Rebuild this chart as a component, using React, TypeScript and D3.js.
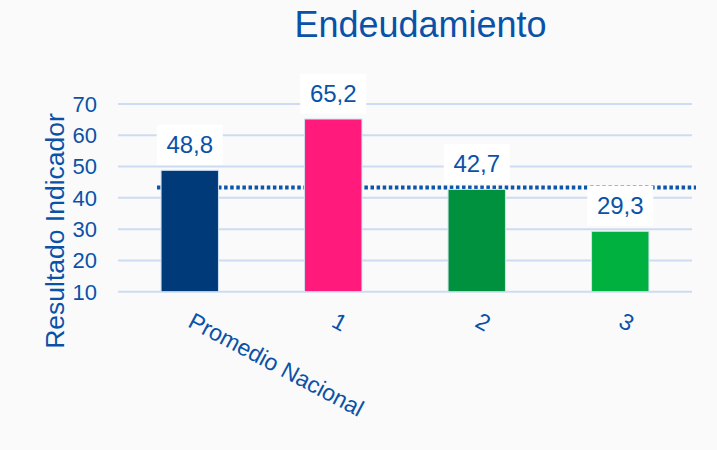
import React from "react";
import * as d3 from "d3";

const categories = ["Promedio Nacional", "1", "2", "3"];
const values = [48.8, 65.2, 42.7, 29.3];
const labels = ["48,8", "65,2", "42,7", "29,3"];
const barColors = ["#003a78", "#ff1a7b", "#00913f", "#00b140"];
const averageValue = 43.3;
const yTicks = [10, 20, 30, 40, 50, 60, 70];
const title = "Endeudamiento";
const yTitle = "Resultado Indicador";

const W = 717;
const H = 450;
const FONT = "'Liberation Sans', Arial, sans-serif";
const TEXT = "#0a52a8";

export default function App() {
  const x = d3.scaleBand<string>().domain(categories).range([118, 692]).paddingInner(0.6).paddingOuter(0.3);
  const y = d3.scaleLinear().domain([10, 70]).range([291.7, 104]);
  const bw = x.bandwidth();

  return (
    <svg width={W} height={H} style={{ position: "fixed", left: 0, top: 0, background: "#fafafa" }} fontFamily={FONT}>
      <rect x={0} y={0} width={W} height={H} fill="#fafafa" />
      <text x={420.5} y={37} textAnchor="middle" fontSize={36} fill={TEXT}>{title}</text>
      {yTicks.map((t) => (
        <line key={t} x1={118} x2={692} y1={y(t)} y2={y(t)} stroke="#cddcf0" strokeWidth={2} />
      ))}
      {yTicks.map((t) => (
        <text key={"l" + t} x={97} y={y(t)} dy="0.36em" textAnchor="end" fontSize={22} fill={TEXT}>{t}</text>
      ))}
      <text transform={`translate(64,231) rotate(-90)`} textAnchor="middle" fontSize={26.5} fill={TEXT}>{yTitle}</text>
      <line x1={157} x2={696} y1={y(averageValue)} y2={y(averageValue)} stroke="#0b56a8" strokeWidth={4} strokeDasharray="3.5,2.6" />
      {categories.map((c, i) => (
        <rect key={c} x={x(c)} y={y(values[i])} width={bw} height={y(10) - y(values[i])} fill={barColors[i]} stroke="#cfe0f3" strokeWidth={1} />
      ))}
      {categories.map((c, i) => {
        const cx = (x(c) as number) + bw / 2;
        const base = y(values[i]) - 17;
        return (
          <g key={"v" + c}>
            <rect x={cx - 33} y={base - 8.5 - 20} width={66} height={40} fill="#ffffff" />
            <text x={cx} y={base} textAnchor="middle" fontSize={24} fill={TEXT}>{labels[i]}</text>
          </g>
        );
      })}
      {categories.map((c) => {
        const cx = (x(c) as number) + bw / 2;
        return (
          <text key={"x" + c} transform={`translate(${cx - 3},326) rotate(28)`} textAnchor="start" fontSize={23} fill={TEXT}>{c}</text>
        );
      })}
    </svg>
  );
}
